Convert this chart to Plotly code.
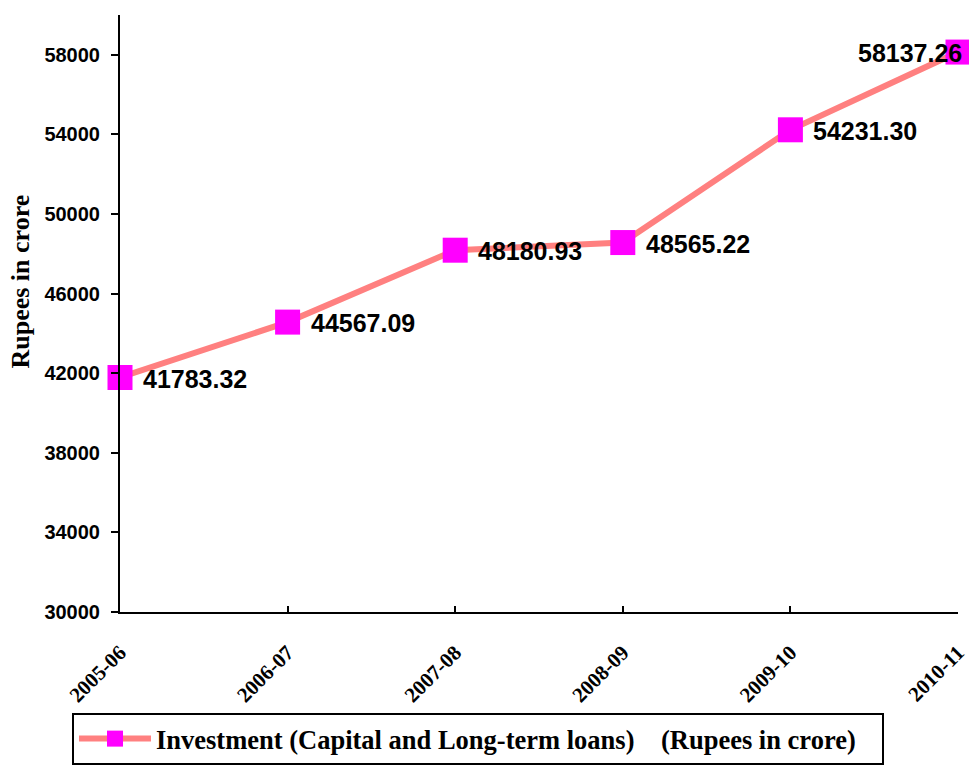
import plotly.graph_objects as go

years = ["2005-06", "2006-07", "2007-08", "2008-09", "2009-10", "2010-11"]
investment = [41783.32, 44567.09, 48180.93, 48565.22, 54231.30, 58137.26]
label_text = ["41783.32", "44567.09", "48180.93", "48565.22", "54231.30", "58137.26"]
y_ticks = [30000, 34000, 38000, 42000, 46000, 50000, 54000, 58000]
y_tick_text = ["30000", "34000", "38000", "42000", "46000", "50000", "54000", "58000"]
series_name = "Investment (Capital and Long-term loans)\u00a0\u00a0\u00a0\u00a0(Rupees in crore)"

SANS = "Arial, 'Liberation Sans', sans-serif"
SERIF = "'Times New Roman', 'Liberation Serif', serif"

fig = go.Figure()
fig.add_trace(go.Scatter(
    x=years, y=investment, mode="lines+markers", name=series_name,
    line=dict(color="#FF8080", width=6),
    marker=dict(symbol="square", size=25, color="#FF00FF", line=dict(width=0)),
    cliponaxis=False,
))

annotations = []
for i, (yr, v, t) in enumerate(zip(years, investment, label_text)):
    last = i == len(years) - 1
    annotations.append(dict(
        x=yr, y=v, xref="x", yref="y", text=t, showarrow=False,
        xanchor="right" if last else "left", yanchor="middle",
        xshift=6 if last else 21, yshift=-1,
        font=dict(family=SANS, size=25, color="black", weight="bold"),
    ))
annotations.append(dict(
    x=-0.119, y=0.554, xref="paper", yref="paper", text="Rupees in crore",
    textangle=-90, showarrow=False, xanchor="center", yanchor="middle",
    font=dict(family=SERIF, size=26, color="black", weight="bold"),
))

fig.update_layout(
    width=969, height=767,
    margin=dict(l=120, r=11, t=15, b=155, autoexpand=False),
    paper_bgcolor="white", plot_bgcolor="white",
    showlegend=True,
    legend=dict(
        orientation="h", x=-0.0573, y=-0.169, xanchor="left", yanchor="top",
        bordercolor="black", borderwidth=2, bgcolor="white",
        font=dict(family=SERIF, size=26.5, color="black", weight="bold"),
        itemwidth=72,
        entrywidth=721, entrywidthmode="pixels",
    ),
    annotations=annotations,
)
fig.update_xaxes(
    type="category", range=[0, len(years) - 1], automargin=False,
    showline=True, linecolor="black", linewidth=2,
    ticks="inside", ticklen=6, tickwidth=2, tickcolor="black",
    tickangle=-45, ticklabelstandoff=18,
    tickfont=dict(family=SERIF, size=21, color="black", weight="bold"),
    showgrid=False, zeroline=False,
)
fig.update_yaxes(
    range=[30000, 60000], tickvals=y_ticks, ticktext=y_tick_text, automargin=False,
    showline=True, linecolor="black", linewidth=2,
    ticks="outside", ticklen=7, tickwidth=2, tickcolor="black",
    ticklabelstandoff=7,
    tickfont=dict(family=SANS, size=20, color="black", weight="bold"),
    showgrid=False, zeroline=False,
)

fig.write_html(
    "out.html",
    config={"displayModeBar": False},
    post_script="document.body.style.margin='0';document.body.style.padding='0';"
                "document.body.style.overflow='hidden';",
)
